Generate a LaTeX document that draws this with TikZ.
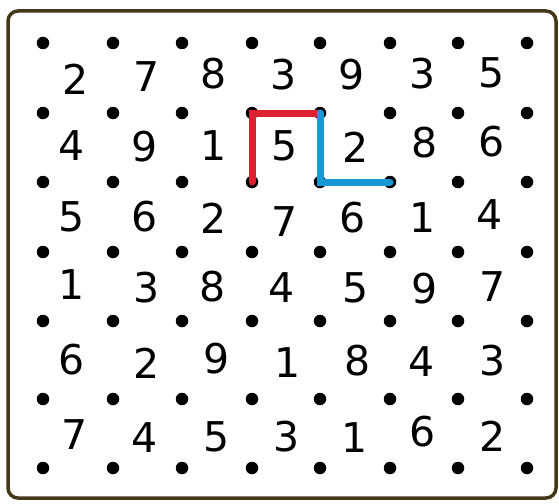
\documentclass[tikz,border=0pt]{standalone}
\usepackage{fontspec}
\setmainfont{DejaVu Sans}
\definecolor{framecol}{RGB}{66,56,24}
\definecolor{redline}{RGB}{222,32,48}
\definecolor{blueline}{RGB}{24,152,214}
\begin{document}
\begin{tikzpicture}[x=1pt,y=-1pt,
  dot/.style={circle,fill=black,inner sep=0pt,minimum size=12.5pt},
  num/.style={inner sep=0pt,text=black,font=\fontsize{41}{41}\selectfont},
  redpath/.style={redline,line width=7pt,line cap=round,line join=miter},
  bluepath/.style={blueline,line width=7pt,line cap=round,line join=miter},
  frame/.style={framecol,line width=3.5pt,rounded corners=10pt,fill=white}]
\useasboundingbox (0,0) rectangle (559,503);
\draw[frame] (8,11) rectangle (556,498);
% grid of dots
\foreach \x [count=\i] in {43,113,182,252,320,390,458,527}
  \foreach \y [count=\j] in {43,113,182,252,321,399,468}
    \node[dot] (d\i-\j) at (\x,\y) {};
% numbers
\foreach \t/\x/\y [count=\k] in {
  2/76/79, 7/147/77, 8/214/74, 3/284/75, 9/352/75, 3/423/74, 5/492/73,
  4/72/146, 9/145/147, 1/214/146, 5/285/146, 2/356/147, 8/425/143, 6/492/142,
  5/72/217, 6/145/217, 2/214/218, 7/285/222, 6/353/218, 1/423/218, 4/490/215,
  1/72/285, 3/147/288, 8/213/287, 4/282/288, 5/356/288, 9/425/289, 7/493/287,
  6/72/360, 2/147/363, 9/217/359, 1/288/363, 8/358/361, 4/422/362, 3/493/361,
  7/75/435, 4/145/438, 5/217/437, 3/287/437, 1/355/438, 6/423/432, 2/493/436}
  \node[num] (n\k) at (\x,\y) {\t};
% paths
\draw[redpath] (d4-3.center) -- (d4-2.center) -- (d5-2.center);
\draw[bluepath] (d5-2.center) -- (d5-3.center) -- (d6-3.center);
\end{tikzpicture}
\end{document}
